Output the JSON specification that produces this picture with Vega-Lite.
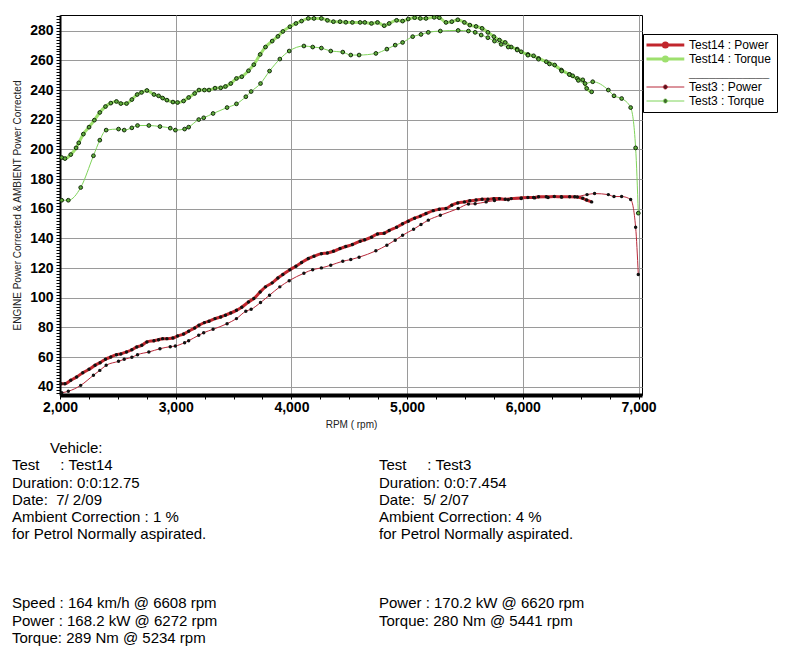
{
  "$schema": "https://vega.github.io/schema/vega-lite/v6.json",
  "background": "white",
  "padding": {"left": 12, "top": 8, "right": 5, "bottom": 5},
  "config": {"font": "Liberation Sans"},
  "columns": 1,
  "align": "none",
  "spacing": 11,
  "datasets": {
    "curves": [
      {"s":"Test14 : Torque","rpm":2015,"v":194.5},{"s":"Test14 : Torque","rpm":2043,"v":193.8},{"s":"Test14 : Torque","rpm":2093,"v":196.5},{"s":"Test14 : Torque","rpm":2139,"v":201},{"s":"Test14 : Torque","rpm":2162,"v":204.4},{"s":"Test14 : Torque","rpm":2202,"v":210.3},{"s":"Test14 : Torque","rpm":2251,"v":215},{"s":"Test14 : Torque","rpm":2297,"v":219.7},{"s":"Test14 : Torque","rpm":2344,"v":224.9},{"s":"Test14 : Torque","rpm":2393,"v":228.9},{"s":"Test14 : Torque","rpm":2439,"v":231.2},{"s":"Test14 : Torque","rpm":2488,"v":232.3},{"s":"Test14 : Torque","rpm":2526,"v":230.9},{"s":"Test14 : Torque","rpm":2575,"v":230.9},{"s":"Test14 : Torque","rpm":2621,"v":233.6},{"s":"Test14 : Torque","rpm":2667,"v":237},{"s":"Test14 : Torque","rpm":2705,"v":238.4},{"s":"Test14 : Torque","rpm":2751,"v":239.7},{"s":"Test14 : Torque","rpm":2812,"v":237},{"s":"Test14 : Torque","rpm":2852,"v":236.1},{"s":"Test14 : Torque","rpm":2887,"v":234.6},{"s":"Test14 : Torque","rpm":2924,"v":233.2},{"s":"Test14 : Torque","rpm":2976,"v":231.9},{"s":"Test14 : Torque","rpm":3016,"v":231.6},{"s":"Test14 : Torque","rpm":3068,"v":232.6},{"s":"Test14 : Torque","rpm":3112,"v":235},{"s":"Test14 : Torque","rpm":3164,"v":237.7},{"s":"Test14 : Torque","rpm":3201,"v":240},{"s":"Test14 : Torque","rpm":3248,"v":240},{"s":"Test14 : Torque","rpm":3288,"v":240},{"s":"Test14 : Torque","rpm":3340,"v":241.3},{"s":"Test14 : Torque","rpm":3389,"v":241.5},{"s":"Test14 : Torque","rpm":3430,"v":242.4},{"s":"Test14 : Torque","rpm":3476,"v":244.4},{"s":"Test14 : Torque","rpm":3525,"v":247.8},{"s":"Test14 : Torque","rpm":3571,"v":249},{"s":"Test14 : Torque","rpm":3629,"v":253},{"s":"Test14 : Torque","rpm":3675,"v":257.1},{"s":"Test14 : Torque","rpm":3730,"v":264},{"s":"Test14 : Torque","rpm":3776,"v":269},{"s":"Test14 : Torque","rpm":3834,"v":273},{"s":"Test14 : Torque","rpm":3883,"v":276.2},{"s":"Test14 : Torque","rpm":3926,"v":279.5},{"s":"Test14 : Torque","rpm":3987,"v":282.7},{"s":"Test14 : Torque","rpm":4039,"v":284.9},{"s":"Test14 : Torque","rpm":4088,"v":286.5},{"s":"Test14 : Torque","rpm":4146,"v":288.3},{"s":"Test14 : Torque","rpm":4195,"v":288.3},{"s":"Test14 : Torque","rpm":4259,"v":288.3},{"s":"Test14 : Torque","rpm":4311,"v":287},{"s":"Test14 : Torque","rpm":4363,"v":286.1},{"s":"Test14 : Torque","rpm":4420,"v":286.1},{"s":"Test14 : Torque","rpm":4470,"v":285.7},{"s":"Test14 : Torque","rpm":4527,"v":285.6},{"s":"Test14 : Torque","rpm":4594,"v":285.6},{"s":"Test14 : Torque","rpm":4634,"v":285.6},{"s":"Test14 : Torque","rpm":4692,"v":284.9},{"s":"Test14 : Torque","rpm":4744,"v":285.6},{"s":"Test14 : Torque","rpm":4802,"v":283.4},{"s":"Test14 : Torque","rpm":4845,"v":284.9},{"s":"Test14 : Torque","rpm":4909,"v":287},{"s":"Test14 : Torque","rpm":4961,"v":286.5},{"s":"Test14 : Torque","rpm":5010,"v":287.9},{"s":"Test14 : Torque","rpm":5065,"v":288.8},{"s":"Test14 : Torque","rpm":5114,"v":288.3},{"s":"Test14 : Torque","rpm":5163,"v":288.3},{"s":"Test14 : Torque","rpm":5234,"v":289},{"s":"Test14 : Torque","rpm":5278,"v":288.8},{"s":"Test14 : Torque","rpm":5336,"v":285.6},{"s":"Test14 : Torque","rpm":5386,"v":286.1},{"s":"Test14 : Torque","rpm":5438,"v":287.4},{"s":"Test14 : Torque","rpm":5495,"v":285.6},{"s":"Test14 : Torque","rpm":5542,"v":283.8},{"s":"Test14 : Torque","rpm":5596,"v":282.9},{"s":"Test14 : Torque","rpm":5648,"v":281.6},{"s":"Test14 : Torque","rpm":5698,"v":278.9},{"s":"Test14 : Torque","rpm":5750,"v":276},{"s":"Test14 : Torque","rpm":5798,"v":273.7},{"s":"Test14 : Torque","rpm":5848,"v":272.1},{"s":"Test14 : Torque","rpm":5900,"v":269},{"s":"Test14 : Torque","rpm":5951,"v":267.6},{"s":"Test14 : Torque","rpm":5986,"v":265.8},{"s":"Test14 : Torque","rpm":6044,"v":264},{"s":"Test14 : Torque","rpm":6093,"v":263.1},{"s":"Test14 : Torque","rpm":6136,"v":261.3},{"s":"Test14 : Torque","rpm":6203,"v":259.1},{"s":"Test14 : Torque","rpm":6275,"v":256.9},{"s":"Test14 : Torque","rpm":6333,"v":253.5},{"s":"Test14 : Torque","rpm":6405,"v":250.5},{"s":"Test14 : Torque","rpm":6471,"v":247.8},{"s":"Test14 : Torque","rpm":6518,"v":246.9},{"s":"Test14 : Torque","rpm":6552,"v":241.1},{"s":"Test14 : Torque","rpm":6595,"v":238.8},
      {"s":"Test3 : Torque","rpm":2015,"v":165.7},{"s":"Test3 : Torque","rpm":2072,"v":165.7},{"s":"Test3 : Torque","rpm":2179,"v":174.3},{"s":"Test3 : Torque","rpm":2289,"v":195.7},{"s":"Test3 : Torque","rpm":2344,"v":206.2},{"s":"Test3 : Torque","rpm":2399,"v":213},{"s":"Test3 : Torque","rpm":2506,"v":213.7},{"s":"Test3 : Torque","rpm":2555,"v":213},{"s":"Test3 : Torque","rpm":2621,"v":214.5},{"s":"Test3 : Torque","rpm":2670,"v":216.1},{"s":"Test3 : Torque","rpm":2768,"v":216.1},{"s":"Test3 : Torque","rpm":2864,"v":215.4},{"s":"Test3 : Torque","rpm":2953,"v":214.3},{"s":"Test3 : Torque","rpm":2997,"v":213},{"s":"Test3 : Torque","rpm":3077,"v":213.7},{"s":"Test3 : Torque","rpm":3112,"v":215},{"s":"Test3 : Torque","rpm":3199,"v":220.1},{"s":"Test3 : Torque","rpm":3242,"v":221.3},{"s":"Test3 : Torque","rpm":3323,"v":224.2},{"s":"Test3 : Torque","rpm":3444,"v":228.2},{"s":"Test3 : Torque","rpm":3525,"v":230.7},{"s":"Test3 : Torque","rpm":3606,"v":235.5},{"s":"Test3 : Torque","rpm":3652,"v":239},{"s":"Test3 : Torque","rpm":3733,"v":244.4},{"s":"Test3 : Torque","rpm":3811,"v":252.8},{"s":"Test3 : Torque","rpm":3900,"v":260.9},{"s":"Test3 : Torque","rpm":3981,"v":266.3},{"s":"Test3 : Torque","rpm":4108,"v":269.7},{"s":"Test3 : Torque","rpm":4184,"v":269},{"s":"Test3 : Torque","rpm":4259,"v":268.3},{"s":"Test3 : Torque","rpm":4340,"v":266.3},{"s":"Test3 : Torque","rpm":4444,"v":265.6},{"s":"Test3 : Torque","rpm":4513,"v":263.6},{"s":"Test3 : Torque","rpm":4585,"v":263.6},{"s":"Test3 : Torque","rpm":4730,"v":264.7},{"s":"Test3 : Torque","rpm":4825,"v":267.6},{"s":"Test3 : Torque","rpm":4897,"v":270.3},{"s":"Test3 : Torque","rpm":4961,"v":272.1},{"s":"Test3 : Torque","rpm":5048,"v":276},{"s":"Test3 : Torque","rpm":5120,"v":277.5},{"s":"Test3 : Torque","rpm":5183,"v":278.9},{"s":"Test3 : Torque","rpm":5287,"v":279.8},{"s":"Test3 : Torque","rpm":5441,"v":280.2},{"s":"Test3 : Torque","rpm":5530,"v":279.8},{"s":"Test3 : Torque","rpm":5588,"v":278.9},{"s":"Test3 : Torque","rpm":5640,"v":277.1},{"s":"Test3 : Torque","rpm":5698,"v":275.3},{"s":"Test3 : Torque","rpm":5755,"v":273},{"s":"Test3 : Torque","rpm":5813,"v":270.8},{"s":"Test3 : Torque","rpm":5874,"v":269},{"s":"Test3 : Torque","rpm":5951,"v":267},{"s":"Test3 : Torque","rpm":6044,"v":263.5},{"s":"Test3 : Torque","rpm":6136,"v":260.8},{"s":"Test3 : Torque","rpm":6230,"v":257.6},{"s":"Test3 : Torque","rpm":6336,"v":252.8},{"s":"Test3 : Torque","rpm":6402,"v":250.5},{"s":"Test3 : Torque","rpm":6431,"v":249.6},{"s":"Test3 : Torque","rpm":6480,"v":246.5},{"s":"Test3 : Torque","rpm":6538,"v":244.4},{"s":"Test3 : Torque","rpm":6604,"v":245.6},{"s":"Test3 : Torque","rpm":6739,"v":240},{"s":"Test3 : Torque","rpm":6788,"v":236.1},{"s":"Test3 : Torque","rpm":6854,"v":234.3},{"s":"Test3 : Torque","rpm":6932,"v":228.2},{"s":"Test3 : Torque","rpm":6975,"v":201},{"s":"Test3 : Torque","rpm":6998,"v":157},
      {"s":"Test14 : Power","rpm":2009,"v":42},{"s":"Test14 : Power","rpm":2043,"v":42},{"s":"Test14 : Power","rpm":2093,"v":44.3},{"s":"Test14 : Power","rpm":2144,"v":46.5},{"s":"Test14 : Power","rpm":2197,"v":49.4},{"s":"Test14 : Power","rpm":2251,"v":51.7},{"s":"Test14 : Power","rpm":2303,"v":54.4},{"s":"Test14 : Power","rpm":2347,"v":56.2},{"s":"Test14 : Power","rpm":2393,"v":58.5},{"s":"Test14 : Power","rpm":2439,"v":60},{"s":"Test14 : Power","rpm":2488,"v":61.6},{"s":"Test14 : Power","rpm":2526,"v":62.1},{"s":"Test14 : Power","rpm":2575,"v":63.4},{"s":"Test14 : Power","rpm":2621,"v":64.9},{"s":"Test14 : Power","rpm":2664,"v":66.8},{"s":"Test14 : Power","rpm":2707,"v":67.9},{"s":"Test14 : Power","rpm":2751,"v":70.2},{"s":"Test14 : Power","rpm":2812,"v":71},{"s":"Test14 : Power","rpm":2852,"v":71.7},{"s":"Test14 : Power","rpm":2887,"v":72.4},{"s":"Test14 : Power","rpm":2924,"v":72.4},{"s":"Test14 : Power","rpm":2976,"v":72.8},{"s":"Test14 : Power","rpm":3016,"v":74.2},{"s":"Test14 : Power","rpm":3068,"v":75.5},{"s":"Test14 : Power","rpm":3112,"v":77.4},{"s":"Test14 : Power","rpm":3164,"v":79.6},{"s":"Test14 : Power","rpm":3201,"v":81.4},{"s":"Test14 : Power","rpm":3248,"v":83.2},{"s":"Test14 : Power","rpm":3288,"v":84.1},{"s":"Test14 : Power","rpm":3340,"v":85.9},{"s":"Test14 : Power","rpm":3389,"v":87},{"s":"Test14 : Power","rpm":3430,"v":88.2},{"s":"Test14 : Power","rpm":3476,"v":89.7},{"s":"Test14 : Power","rpm":3525,"v":91.5},{"s":"Test14 : Power","rpm":3571,"v":93.6},{"s":"Test14 : Power","rpm":3629,"v":97.1},{"s":"Test14 : Power","rpm":3675,"v":99.4},{"s":"Test14 : Power","rpm":3730,"v":103.9},{"s":"Test14 : Power","rpm":3776,"v":107.3},{"s":"Test14 : Power","rpm":3834,"v":110},{"s":"Test14 : Power","rpm":3883,"v":113.3},{"s":"Test14 : Power","rpm":3926,"v":115.6},{"s":"Test14 : Power","rpm":3987,"v":118.9},{"s":"Test14 : Power","rpm":4039,"v":121.2},{"s":"Test14 : Power","rpm":4088,"v":123.7},{"s":"Test14 : Power","rpm":4146,"v":126.4},{"s":"Test14 : Power","rpm":4195,"v":128},{"s":"Test14 : Power","rpm":4259,"v":129.7},{"s":"Test14 : Power","rpm":4311,"v":130.2},{"s":"Test14 : Power","rpm":4363,"v":131.3},{"s":"Test14 : Power","rpm":4420,"v":133.1},{"s":"Test14 : Power","rpm":4470,"v":134.5},{"s":"Test14 : Power","rpm":4527,"v":135.8},{"s":"Test14 : Power","rpm":4594,"v":138.1},{"s":"Test14 : Power","rpm":4634,"v":139},{"s":"Test14 : Power","rpm":4692,"v":140.8},{"s":"Test14 : Power","rpm":4744,"v":143},{"s":"Test14 : Power","rpm":4802,"v":143.5},{"s":"Test14 : Power","rpm":4845,"v":145.3},{"s":"Test14 : Power","rpm":4909,"v":147.5},{"s":"Test14 : Power","rpm":4961,"v":149.8},{"s":"Test14 : Power","rpm":5010,"v":151.6},{"s":"Test14 : Power","rpm":5065,"v":153.6},{"s":"Test14 : Power","rpm":5114,"v":155},{"s":"Test14 : Power","rpm":5163,"v":156.7},{"s":"Test14 : Power","rpm":5226,"v":158.7},{"s":"Test14 : Power","rpm":5278,"v":159.7},{"s":"Test14 : Power","rpm":5336,"v":160.1},{"s":"Test14 : Power","rpm":5386,"v":162.4},{"s":"Test14 : Power","rpm":5438,"v":163.9},{"s":"Test14 : Power","rpm":5495,"v":164.6},{"s":"Test14 : Power","rpm":5542,"v":165.3},{"s":"Test14 : Power","rpm":5596,"v":165.8},{"s":"Test14 : Power","rpm":5648,"v":166.4},{"s":"Test14 : Power","rpm":5698,"v":166.4},{"s":"Test14 : Power","rpm":5750,"v":166.8},{"s":"Test14 : Power","rpm":5798,"v":166.8},{"s":"Test14 : Power","rpm":5848,"v":166.4},{"s":"Test14 : Power","rpm":5900,"v":166.8},{"s":"Test14 : Power","rpm":5986,"v":167.3},{"s":"Test14 : Power","rpm":6044,"v":167.5},{"s":"Test14 : Power","rpm":6093,"v":167.5},{"s":"Test14 : Power","rpm":6136,"v":168},{"s":"Test14 : Power","rpm":6203,"v":168},{"s":"Test14 : Power","rpm":6272,"v":168.2},{"s":"Test14 : Power","rpm":6333,"v":168},{"s":"Test14 : Power","rpm":6405,"v":168.1},{"s":"Test14 : Power","rpm":6471,"v":167.9},{"s":"Test14 : Power","rpm":6518,"v":167},{"s":"Test14 : Power","rpm":6552,"v":165.8},{"s":"Test14 : Power","rpm":6595,"v":164.6},
      {"s":"Test3 : Power","rpm":2015,"v":35.9},{"s":"Test3 : Power","rpm":2072,"v":36.9},{"s":"Test3 : Power","rpm":2179,"v":40.9},{"s":"Test3 : Power","rpm":2289,"v":47.7},{"s":"Test3 : Power","rpm":2344,"v":51},{"s":"Test3 : Power","rpm":2399,"v":54.4},{"s":"Test3 : Power","rpm":2506,"v":57.1},{"s":"Test3 : Power","rpm":2555,"v":58.5},{"s":"Test3 : Power","rpm":2621,"v":59.8},{"s":"Test3 : Power","rpm":2670,"v":61.6},{"s":"Test3 : Power","rpm":2768,"v":63.4},{"s":"Test3 : Power","rpm":2864,"v":65.6},{"s":"Test3 : Power","rpm":2953,"v":67},{"s":"Test3 : Power","rpm":2997,"v":67.4},{"s":"Test3 : Power","rpm":3077,"v":69.7},{"s":"Test3 : Power","rpm":3112,"v":71},{"s":"Test3 : Power","rpm":3199,"v":74.7},{"s":"Test3 : Power","rpm":3242,"v":76.4},{"s":"Test3 : Power","rpm":3323,"v":78.7},{"s":"Test3 : Power","rpm":3444,"v":82.5},{"s":"Test3 : Power","rpm":3525,"v":85.9},{"s":"Test3 : Power","rpm":3606,"v":90.9},{"s":"Test3 : Power","rpm":3652,"v":92.2},{"s":"Test3 : Power","rpm":3733,"v":96.7},{"s":"Test3 : Power","rpm":3811,"v":101.7},{"s":"Test3 : Power","rpm":3900,"v":107.3},{"s":"Test3 : Power","rpm":3981,"v":111.5},{"s":"Test3 : Power","rpm":4108,"v":116.5},{"s":"Test3 : Power","rpm":4184,"v":118.9},{"s":"Test3 : Power","rpm":4259,"v":120.1},{"s":"Test3 : Power","rpm":4340,"v":121.9},{"s":"Test3 : Power","rpm":4444,"v":124.6},{"s":"Test3 : Power","rpm":4513,"v":125.7},{"s":"Test3 : Power","rpm":4585,"v":127.3},{"s":"Test3 : Power","rpm":4730,"v":131.6},{"s":"Test3 : Power","rpm":4825,"v":135.4},{"s":"Test3 : Power","rpm":4897,"v":138.8},{"s":"Test3 : Power","rpm":4961,"v":142.1},{"s":"Test3 : Power","rpm":5056,"v":146.2},{"s":"Test3 : Power","rpm":5120,"v":149.3},{"s":"Test3 : Power","rpm":5183,"v":152.3},{"s":"Test3 : Power","rpm":5287,"v":155.6},{"s":"Test3 : Power","rpm":5441,"v":160.1},{"s":"Test3 : Power","rpm":5530,"v":163.1},{"s":"Test3 : Power","rpm":5588,"v":163.3},{"s":"Test3 : Power","rpm":5683,"v":164.6},{"s":"Test3 : Power","rpm":5755,"v":165.5},{"s":"Test3 : Power","rpm":5874,"v":166.1},{"s":"Test3 : Power","rpm":5986,"v":166.8},{"s":"Test3 : Power","rpm":6102,"v":167.3},{"s":"Test3 : Power","rpm":6218,"v":167.6},{"s":"Test3 : Power","rpm":6336,"v":167.8},{"s":"Test3 : Power","rpm":6449,"v":168},{"s":"Test3 : Power","rpm":6555,"v":169.5},{"s":"Test3 : Power","rpm":6620,"v":170.2},{"s":"Test3 : Power","rpm":6739,"v":169.5},{"s":"Test3 : Power","rpm":6788,"v":168.2},{"s":"Test3 : Power","rpm":6854,"v":168.2},{"s":"Test3 : Power","rpm":6932,"v":166.2},{"s":"Test3 : Power","rpm":6975,"v":147.5},{"s":"Test3 : Power","rpm":6998,"v":115.6}
    ],
    "notes": [
      {"col":"left","line":0,"text":"Vehicle:"},
      {"col":"left","line":1,"text":"Test\u00a0\u00a0\u00a0\u00a0\u00a0: Test14"},
      {"col":"left","line":2,"text":"Duration: 0:0:12.75"},
      {"col":"left","line":3,"text":"Date:\u00a0\u00a07/\u00a02/09"},
      {"col":"left","line":4,"text":"Ambient Correction : 1 %"},
      {"col":"left","line":5,"text":"\u00a0for Petrol Normally aspirated."},
      {"col":"left","line":9,"text":"Speed : 164 km/h @ 6608 rpm"},
      {"col":"left","line":10,"text":"Power : 168.2 kW @ 6272 rpm"},
      {"col":"left","line":11,"text":"Torque: 289 Nm @ 5234 rpm"},
      {"col":"right","line":1,"text":"Test\u00a0\u00a0\u00a0\u00a0\u00a0: Test3"},
      {"col":"right","line":2,"text":"Duration: 0:0:7.454"},
      {"col":"right","line":3,"text":"Date:\u00a0\u00a05/\u00a02/07"},
      {"col":"right","line":4,"text":"Ambient Correction: 4 %"},
      {"col":"right","line":5,"text":"\u00a0for Petrol Normally aspirated."},
      {"col":"right","line":9,"text":"Power : 170.2 kW @ 6620 rpm"},
      {"col":"right","line":10,"text":"Torque: 280 Nm @ 5441 rpm"}
    ]
  },
  "concat": [
    {
      "width": 582,
      "height": 380,
      "view": {"stroke": "black", "strokeWidth": 1},
      "data": {"name": "curves"},
      "encoding": {
        "x": {
          "field": "rpm", "type": "quantitative",
          "scale": {"domain": [2000, 7030], "nice": false, "zero": false},
          "axis": {
            "values": [2000,2250,2500,2750,3000,3250,3500,3750,4000,4250,4500,4750,5000,5250,5500,5750,6000,6250,6500,6750,7000],
            "labelExpr": "datum.value % 1000 === 0 ? format(datum.value, ',') : ''",
            "labelOverlap": false,
            "labelFlush": false,
            "gridOpacity": {"condition": {"test": "datum.value % 1000 === 0", "value": 1}, "value": 0},
            "gridColor": "#9a9a9a", "gridWidth": 1,
            "domainColor": "black", "domainWidth": 4,
            "tickColor": "black", "tickSize": 4, "tickWidth": 1,
            "labelFont": "Liberation Sans", "labelFontSize": 14, "labelFontWeight": "bold", "labelColor": "black", "labelPadding": 1,
            "title": "RPM ( rpm)", "titleFont": "Liberation Sans", "titleFontSize": 10, "titleFontWeight": "normal", "titleColor": "#222", "titlePadding": 5
          }
        },
        "y": {
          "field": "v", "type": "quantitative",
          "scale": {"domain": [34.4, 290.6], "nice": false, "zero": false},
          "axis": {
            "values": [36,38,40,42,44,46,48,50,52,54,56,58,60,62,64,66,68,70,72,74,76,78,80,82,84,86,88,90,92,94,96,98,100,102,104,106,108,110,112,114,116,118,120,122,124,126,128,130,132,134,136,138,140,142,144,146,148,150,152,154,156,158,160,162,164,166,168,170,172,174,176,178,180,182,184,186,188,190,192,194,196,198,200,202,204,206,208,210,212,214,216,218,220,222,224,226,228,230,232,234,236,238,240,242,244,246,248,250,252,254,256,258,260,262,264,266,268,270,272,274,276,278,280,282,284,286,288,290],
            "labelExpr": "datum.value % 20 === 0 ? datum.value : ''",
            "labelOverlap": false,
            "labelFlush": false,
            "gridOpacity": {"condition": {"test": "datum.value % 20 === 0", "value": 1}, "value": 0},
            "gridColor": "#9a9a9a", "gridWidth": 1,
            "domainColor": "black", "domainWidth": 2,
            "tickColor": "black", "tickSize": 4, "tickWidth": 1,
            "labelFont": "Liberation Sans", "labelFontSize": 14, "labelFontWeight": "bold", "labelColor": "black", "labelPadding": 3,
            "title": "ENGINE Power Corrected & AMBIENT Power Corrected", "titleFont": "Liberation Sans", "titleFontSize": 10, "titleFontWeight": "normal", "titleColor": "#222", "titlePadding": 7
          }
        },
        "color": {
          "field": "s", "type": "nominal",
          "scale": {"domain": ["Test14 : Power", "Test14 : Torque", "____________", "Test3 : Power", "Test3 : Torque"], "range": ["#c1262d", "#9ee06e", "transparent", "#b8293a", "#7fd45a"]},
          "legend": {
            "title": null, "orient": "none", "legendX": 583, "legendY": 19,
            "padding": 5, "strokeColor": "black", "fillColor": "white",
            "symbolType": "M-1.67,0H6.73M2.08,0A0.45,0.45,0,1,0,2.98,0A0.45,0.45,0,1,0,2.08,0Z",
            "symbolSize": 81,
            "labelFont": "Liberation Sans", "labelFontSize": 12, "labelColor": "black", "labelOffset": 29, "labelLimit": 200,
            "rowPadding": 2,
            "encode": {
              "symbols": {"update": {
                "fill": {"signal": "datum.value === '____________' ? 'transparent' : 'black'"},
                "strokeWidth": {"signal": "(datum.value === 'Test14 : Power' || datum.value === 'Test14 : Torque') ? 3 : 1"},
                "strokeJoin": {"value": "round"},
                "strokeCap": {"value": "butt"}
              }},
              "labels": {"update": {"fontWeight": {"signal": "datum.value === '____________' ? 'bold' : 'normal'"}}}
            }
          }
        }
      },
      "layer": [
        {
          "transform": [{"filter": {"field": "s", "oneOf": ["Test14 : Power", "Test14 : Torque"]}}],
          "mark": {"type": "line", "interpolate": "monotone", "strokeWidth": 3}
        },
        {
          "transform": [{"filter": {"field": "s", "oneOf": ["Test3 : Power", "Test3 : Torque"]}}],
          "mark": {"type": "line", "interpolate": "monotone", "strokeWidth": 1}
        },
        {
          "transform": [{"filter": {"field": "s", "oneOf": ["Test14 : Power", "Test3 : Power"]}}],
          "mark": {"type": "point", "filled": true, "size": 12, "opacity": 1},
          "encoding": {"color": {"value": "#111"}}
        },
        {
          "transform": [{"filter": {"field": "s", "oneOf": ["Test14 : Torque", "Test3 : Torque"]}}],
          "mark": {"type": "point", "filled": true, "stroke": "#142a0c", "strokeWidth": 1, "size": 14, "opacity": 1},
          "encoding": {"color": {"value": "#5fae3c"}}
        }
      ]
    },
    {
      "width": 367,
      "height": 190,
      "view": {"stroke": null},
      "data": {"name": "notes"},
      "encoding": {
        "x": {"field": "col", "type": "nominal", "scale": {"type": "point", "domain": ["left", "right"], "padding": 0}, "axis": null},
        "y": {"field": "line", "type": "quantitative", "scale": {"domain": [0, 11], "reverse": true, "nice": false, "zero": false}, "axis": null},
        "text": {"field": "text", "type": "nominal"}
      },
      "layer": [
        {
          "transform": [{"filter": "datum.line > 0"}],
          "mark": {"type": "text", "align": "left", "baseline": "middle", "font": "Liberation Sans", "fontSize": 15, "color": "black", "dx": -48}
        },
        {
          "transform": [{"filter": "datum.line === 0"}],
          "mark": {"type": "text", "align": "left", "baseline": "middle", "font": "Liberation Sans", "fontSize": 15, "color": "black", "dx": -10}
        }
      ]
    }
  ]
}
